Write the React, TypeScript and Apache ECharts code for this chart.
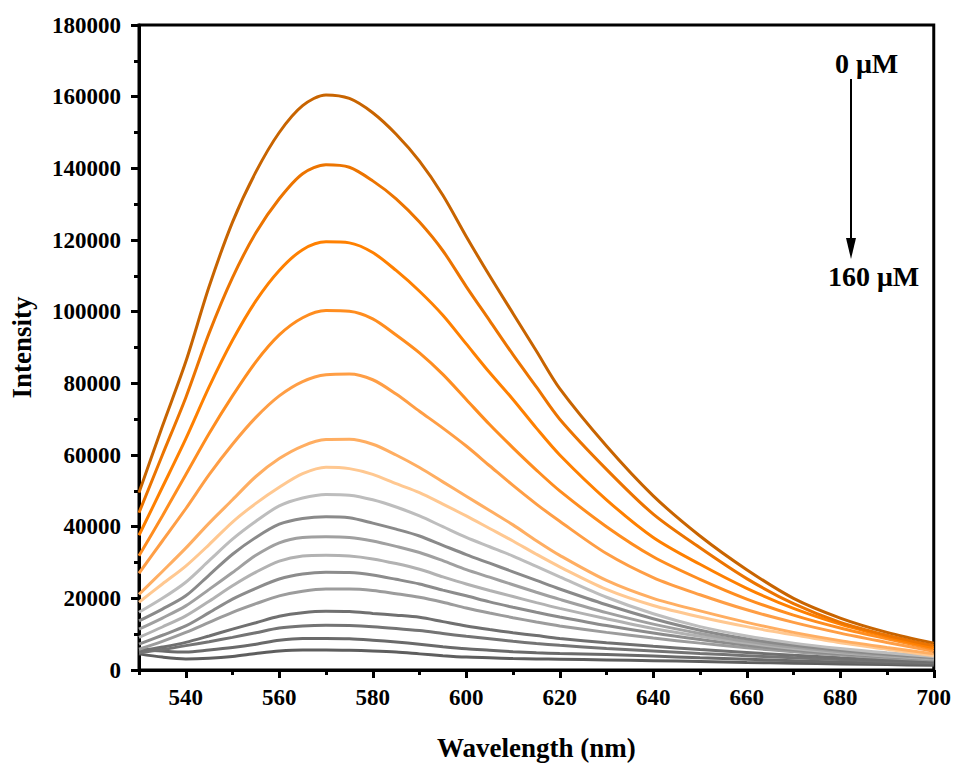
import React, { useEffect, useRef } from "react";
import * as echarts from "echarts";

const wavelength = [530, 535, 540, 545, 550, 555, 560, 565, 570, 575, 580, 585, 590, 595, 600, 605, 610, 615, 620, 630, 640, 650, 660, 670, 680, 690, 700];

const concentrations = [0, 10, 20, 30, 40, 50, 60, 70, 80, 90, 100, 110, 120, 130, 140, 150, 160];

const s0 = [49500, 68000, 86000, 107000, 125000, 139000, 150000, 157500, 160500, 159500, 155500, 149500, 142000, 132500, 121000, 110000, 99500, 89000, 78500, 62500, 48600, 37400, 28000, 20000, 14500, 10500, 7500];
const s10 = [43900, 60000, 76000, 94000, 109500, 122000, 131500, 138500, 141000, 140300, 136500, 131500, 125000, 117000, 107000, 97500, 88000, 79000, 70000, 56000, 43500, 34100, 25500, 18500, 13300, 9700, 6800];
const s20 = [37600, 51000, 64500, 79000, 92000, 103000, 111500, 117300, 119500, 119200, 116500, 111500, 105700, 99000, 91000, 83000, 75500, 67500, 60000, 47500, 37000, 29500, 22800, 17200, 12800, 9300, 6200];
const s30 = [31900, 43000, 54500, 66000, 76500, 86000, 93500, 98300, 100300, 100100, 98000, 93500, 88500, 82500, 75500, 68500, 62000, 55800, 50000, 40000, 31600, 25300, 19800, 15300, 11700, 8700, 5800];
const s40 = [27000, 36000, 45000, 54500, 63000, 70500, 76500, 80500, 82400, 82600, 81000, 77000, 72200, 67500, 62500, 57000, 51500, 46300, 41500, 32500, 25800, 21000, 16800, 13300, 10300, 7700, 5200];
const s50 = [21100, 27500, 34000, 41000, 47500, 54000, 59000, 62500, 64300, 64400, 63000, 60000, 56500, 52500, 48500, 44500, 40500, 36100, 32000, 25000, 20000, 16500, 13300, 10500, 8200, 6300, 4500];
const s60 = [18900, 24000, 29000, 35000, 41300, 46500, 51000, 54800, 56600, 56200, 54600, 52000, 49500, 46300, 43000, 39500, 36000, 32300, 28800, 22500, 18000, 14800, 12100, 9800, 7600, 5800, 4000];
const s70 = [16100, 20000, 24500, 30500, 36500, 41500, 45800, 48000, 49000, 48800, 47500, 45500, 43000, 40000, 37000, 34400, 31800, 28900, 26000, 20300, 15700, 12100, 9500, 7500, 6000, 4800, 3800];
const s80 = [13700, 17000, 20700, 26500, 32300, 37000, 40700, 42300, 42800, 42500, 41000, 39300, 37400, 34800, 32200, 29800, 27400, 25000, 22600, 18200, 14300, 11100, 8700, 6900, 5500, 4400, 3500];
const s90 = [11400, 14500, 17900, 22500, 27200, 32000, 35500, 37000, 37200, 37000, 36000, 34500, 32800, 30500, 28000, 25900, 23800, 21700, 19700, 16000, 12800, 10200, 8000, 6400, 5100, 4100, 3300];
const s100 = [9100, 12000, 15100, 19200, 23500, 27300, 30400, 31800, 32000, 31800, 31000, 29700, 28100, 26000, 24000, 22200, 20500, 18800, 17200, 14300, 11600, 9400, 7500, 6000, 4800, 3900, 3100];
const s110 = [7200, 9700, 12300, 16000, 19800, 22800, 25400, 26800, 27300, 27200, 26500, 25300, 24000, 22300, 20700, 19000, 17500, 16100, 14800, 12400, 10300, 8500, 6900, 5600, 4500, 3700, 3000];
const s120 = [5800, 8000, 10500, 13300, 16100, 18500, 20700, 22000, 22600, 22600, 22200, 21300, 20300, 18900, 17300, 15900, 14600, 13400, 12300, 10500, 8900, 7500, 6200, 5100, 4200, 3400, 2800];
const s130 = [5300, 6400, 7700, 9500, 11400, 13200, 15000, 16000, 16400, 16300, 15800, 15300, 14700, 13500, 12300, 11300, 10400, 9600, 8800, 7600, 6600, 5700, 4900, 4100, 3400, 2800, 2300];
const s140 = [4800, 5700, 6800, 7900, 9100, 10400, 11700, 12300, 12500, 12400, 12100, 11600, 11000, 10200, 9400, 8700, 8000, 7400, 6900, 6000, 5300, 4600, 4000, 3400, 2900, 2400, 2000];
const s150 = [5800, 5300, 5000, 5600, 6300, 7200, 8300, 8800, 8800, 8700, 8300, 7800, 7200, 6500, 5900, 5500, 5100, 4800, 4600, 4300, 3900, 3400, 3000, 2600, 2200, 1900, 1600];
const s160 = [4500, 3600, 3100, 3300, 3800, 4600, 5300, 5600, 5600, 5500, 5300, 5000, 4500, 4000, 3600, 3400, 3200, 3100, 3000, 2800, 2600, 2400, 2100, 1900, 1700, 1500, 1300];

const spectra = [s0, s10, s20, s30, s40, s50, s60, s70, s80, s90, s100, s110, s120, s130, s140, s150, s160];

const colors = [
  "#C86400", "#EC7400", "#FF8000", "#FF8D1F", "#FF9E45", "#FFAE62", "#FFC891",
  "#BDBDBD", "#8A8A8A", "#A0A0A0", "#B2B2B2", "#8C8C8C", "#9C9C9C", "#707070", "#747474", "#6A6A6A", "#5E5E5E",
];

const xMajorTicks = [540, 560, 580, 600, 620, 640, 660, 680, 700];
const xMinorTicks = [530, 550, 570, 590, 610, 630, 650, 670, 690];

const FONT = '"Liberation Serif", "Times New Roman", serif';

export default function App() {
  const ref = useRef<HTMLDivElement>(null);

  useEffect(() => {
    if (!ref.current) return;
    const chart = echarts.init(ref.current, null, { renderer: "svg" });

    const series: any[] = [];
    for (let i = spectra.length - 1; i >= 0; i--) {
      series.push({
        name: concentrations[i] + " μM",
        type: "line",
        xAxisIndex: 0,
        data: wavelength.map((w, j) => [w, spectra[i][j]]),
        showSymbol: false,
        smooth: 0.3,
        lineStyle: { color: colors[i], width: 3 },
        itemStyle: { color: colors[i] },
        clip: true,
      });
    }

    chart.setOption({
      animation: false,
      backgroundColor: "#ffffff",
      grid: {
        left: 138,
        right: 20,
        top: 25,
        bottom: 95,
        show: true,
        borderColor: "#000",
        borderWidth: 3,
        backgroundColor: "transparent",
      },
      xAxis: [
        {
          type: "value",
          min: 530,
          max: 700,
          name: "Wavelength (nm)",
          nameLocation: "middle",
          nameGap: 64,
          nameTextStyle: { fontFamily: FONT, fontWeight: "bold", fontSize: 27, color: "#000" },
          axisLine: { show: true, onZero: false, lineStyle: { color: "#000", width: 3 } },
          axisTick: { show: true, customValues: xMajorTicks, length: 8, lineStyle: { color: "#000", width: 3 } },
          axisLabel: {
            customValues: xMajorTicks,
            fontFamily: FONT,
            fontWeight: "bold",
            fontSize: 23,
            color: "#000",
            margin: 16,
          },
          splitLine: { show: false },
        },
        {
          type: "value",
          min: 530,
          max: 700,
          position: "bottom",
          axisLine: { show: false },
          axisTick: { show: true, customValues: xMinorTicks, length: 5, lineStyle: { color: "#000", width: 3 } },
          axisLabel: { show: false, customValues: xMinorTicks },
          splitLine: { show: false },
        },
      ],
      yAxis: {
        type: "value",
        min: 0,
        max: 180000,
        interval: 20000,
        name: "Intensity",
        nameLocation: "middle",
        nameGap: 104,
        nameRotate: 90,
        nameTextStyle: { fontFamily: FONT, fontWeight: "bold", fontSize: 27, color: "#000" },
        axisLine: { show: true, lineStyle: { color: "#000", width: 3 } },
        axisTick: { show: true, length: 8, lineStyle: { color: "#000", width: 3 } },
        minorTick: { show: true, splitNumber: 2, length: 5, lineStyle: { color: "#000", width: 3 } },
        axisLabel: {
          fontFamily: FONT,
          fontWeight: "bold",
          fontSize: 23,
          color: "#000",
          margin: 18,
          formatter: (v: number) => String(v),
        },
        splitLine: { show: false },
      },
      series,
      graphic: [
        {
          type: "text",
          left: 835,
          top: 49,
          style: { text: "0 μM", font: `bold 28px ${FONT}`, fill: "#000" },
        },
        {
          type: "text",
          left: 828,
          top: 262,
          style: { text: "160 μM", font: `bold 28px ${FONT}`, fill: "#000" },
        },
        {
          type: "line",
          shape: { x1: 851, y1: 79, x2: 851, y2: 242 },
          style: { stroke: "#000", lineWidth: 2 },
        },
        {
          type: "polygon",
          shape: { points: [[846, 238], [856, 238], [851, 259]] },
          style: { fill: "#000" },
        },
      ],
    });

    return () => chart.dispose();
  }, []);

  return (
    <div
      ref={ref}
      style={{ position: "fixed", left: 0, top: 0, width: 954, height: 766, background: "#fff" }}
    />
  );
}
